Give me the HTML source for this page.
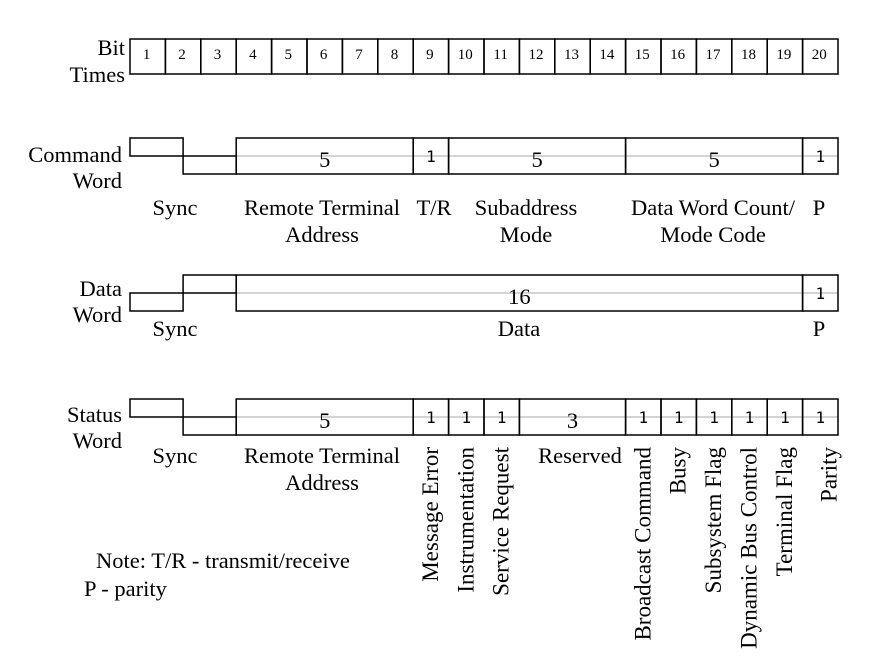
<!DOCTYPE html>
<html><head><meta charset="utf-8"><style>
html,body{margin:0;padding:0;background:#fff;width:880px;height:666px;overflow:hidden}
svg text{font-family:"Liberation Serif","Times New Roman",Times,serif;fill:#000}
svg text.mono{font-family:"DejaVu Sans Mono","Liberation Mono",monospace}
</style></head><body>
<svg id="d" width="880" height="666" viewBox="0 0 880 666" xmlns="http://www.w3.org/2000/svg"></svg>
<script>
const bitLabels=["1","2","3","4","5","6","7","8","9","10","11","12","13","14","15","16","17","18","19","20"];
const cmdFields=[[3,5,"5","s"],[8,1,"1","m"],[9,5,"5","s"],[14,5,"5","s"],[19,1,"1","m"]];
const dataFields=[[3,16,"16","s"],[19,1,"1","m"]];
const statFields=[[3,5,"5","s"],[8,1,"1","m"],[9,1,"1","m"],[10,1,"1","m"],[11,3,"3","s"],[14,1,"1","m"],[15,1,"1","m"],[16,1,"1","m"],[17,1,"1","m"],[18,1,"1","m"],[19,1,"1","m"]];
const statVertical=[["Message Error",8],["Instrumentation",9],["Service Request",10],["Broadcast Command",14],["Busy",15],["Subsystem Flag",16],["Dynamic Bus Control",17],["Terminal Flag",18],["Parity",19]];
const svg=document.getElementById('d');
const NS="http://www.w3.org/2000/svg";
const X0=130,X1=838,CW=(X1-X0)/20;
const FS=22.5;
const bx=b=>X0+b*CW;
function el(t,a,txt){const e=document.createElementNS(NS,t);for(const k in a)e.setAttribute(k,a[k]);if(txt!=null)e.textContent=txt;svg.appendChild(e);return e;}
function txt(x,y,s,size,anchor,name,cls,len){const a={x:x,y:y,'font-size':size,'text-anchor':anchor||'middle',class:cls||'',
 'font-family':cls==='mono'?'DejaVu Sans Mono, monospace':'Liberation Serif, Times New Roman, serif'};
 if(len){a.textLength=len;a.lengthAdjust='spacingAndGlyphs';}
 const e=el('text',a,s);


return e;}
bitLabels.forEach((l,i)=>{
 const r=el('rect',{x:bx(i),y:39,width:CW,height:35,fill:'none',stroke:'#000','stroke-width':1.5});
 
 
 txt(bx(i)+CW*0.47,59,l,15,'middle','bit-number-'+l);
});
txt(125,55,"Bit",FS,'end','bit-label');
txt(125,82,"Times",FS,'end','times-label');
function word(top,fields,inverted,prefix){
 const mid=top+18;
 const g=el('line',{x1:bx(3),y1:mid,x2:X1,y2:mid,stroke:'#bbb','stroke-width':1.2});
 
 
 const s1=el('rect',{x:bx(0),y:inverted?mid:top,width:bx(1.5)-bx(0),height:18,fill:'none',stroke:'#000','stroke-width':1.5});
 
 
 const s2=el('rect',{x:bx(1.5),y:inverted?top:mid,width:bx(3)-bx(1.5),height:18,fill:'none',stroke:'#000','stroke-width':1.5});
 
 
 fields.forEach((f,i)=>{
  const r=el('rect',{x:bx(f[0]),y:top,width:bx(f[0]+f[1])-bx(f[0]),height:36,fill:'none',stroke:'#000','stroke-width':1.5});
  
  
  const cx=(bx(f[0])+bx(f[0]+f[1]))/2;
  txt(cx,mid+(f[3]==='m'?6:11),f[2],f[3]==='m'?16:FS,'middle',prefix+'-field-width-'+i,f[3]==='m'?'mono':'');
 });
}
word(138,cmdFields,false,'command-word');
word(275,dataFields,true,'data-word');
word(399,statFields,false,'status-word');
txt(122,162,"Command",FS,'end','command-label');
txt(122,188,"Word",FS,'end','command-word-label');
txt(122,296,"Data",FS,'end','data-label');
txt(122,322,"Word",FS,'end','data-word-label');
txt(122,422,"Status",FS,'end','status-label');
txt(122,448,"Word",FS,'end','status-word-label');
txt(175,215,"Sync",FS,'middle','command-sync-label');
txt(322,215,"Remote Terminal",FS,'middle','command-rt-label',166);
txt(322,242,"Address",FS,'middle','command-address-label',82);
txt(434,215,"T/R",FS,'middle','tr-label');
txt(526,215,"Subaddress",FS,'middle','subaddress-label',108);
txt(526,242,"Mode",FS,'middle','mode-label');
txt(713,215,"Data Word Count/",FS,'middle','dwc-label',176);
txt(713,242,"Mode Code",FS,'middle','mode-code-label',110);
txt(819,215,"P",FS,'middle','command-parity-label');
txt(175,336,"Sync",FS,'middle','data-sync-label');
txt(519,336,"Data",FS,'middle','data-label-field');
txt(819,336,"P",FS,'middle','data-parity-label');
txt(175,463,"Sync",FS,'middle','status-sync-label');
txt(322,463,"Remote Terminal",FS,'middle','status-rt-label',166);
txt(322,490,"Address",FS,'middle','status-address-label',82);
txt(580,463,"Reserved",FS,'middle','reserved-label',86);
statVertical.forEach(v=>{
 const x=(bx(v[1])+bx(v[1]+1))/2+7+(v[0]==="Parity"?9:0);
 const y=447;
 const e=el('text',{x:0,y:0,'font-size':23,'text-anchor':'end','font-family':'Liberation Serif, Times New Roman, serif',transform:`translate(${x},${y}) rotate(-90)`},v[0]);
 
 
});
txt(96,568,"Note:  T/R - transmit/receive",FS,'start','note-tr',273);
txt(84,596,"P - parity",FS,'start','note-parity',100);
</script>
</body></html>
